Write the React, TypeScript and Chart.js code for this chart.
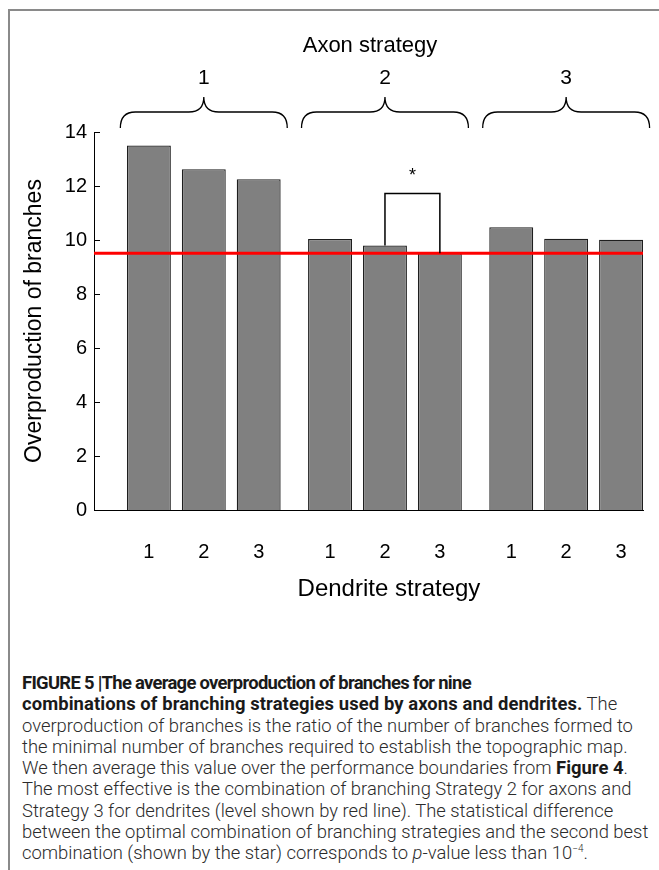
import React, { useEffect, useRef } from "react";
import { Chart, registerables } from "chart.js";

Chart.register(...registerables);

// Branching strategies compared in the figure
const AXON_STRATEGIES = ["1", "2", "3"];
const DENDRITE_STRATEGIES = ["1", "2", "3"];

// Average overproduction of branches, one array per axon strategy,
// indexed by dendrite strategy
const AXON_1 = [13.5, 12.62, 12.25];
const AXON_2 = [10.04, 9.8, 9.51];
const AXON_3 = [10.47, 10.05, 10.01];
const OVERPRODUCTION = [AXON_1, AXON_2, AXON_3];

// Optimal combination (red line) and runner-up (significance bracket)
const BEST = { axon: 1, dendrite: 2 };
const SECOND_BEST = { axon: 1, dendrite: 1 };
const BRACKET_LEVEL = 11.72;
const SIGNIFICANCE_MARK = "*";

const Y_TICKS = [0, 2, 4, 6, 8, 10, 12, 14];

const AXON_TITLE = "Axon strategy";
const DENDRITE_TITLE = "Dendrite strategy";
const VALUE_TITLE = "Overproduction of branches";

// Extra room between axon groups, in units of one bar slot
const GROUP_GAP = 0.3;
const slot = (a: number, d: number) =>
  a * (DENDRITE_STRATEGIES.length + GROUP_GAP) + d + 1;

const FONT = "'Liberation Sans', Arial, Helvetica, sans-serif";

const points = OVERPRODUCTION.flatMap((row, a) =>
  row.map((v, d) => ({ x: slot(a, d), y: v }))
);
const tickSlots = points.map((p) => p.x);
const tickLabels = OVERPRODUCTION.flatMap(() => DENDRITE_STRATEGIES);
const lastSlot = slot(AXON_STRATEGIES.length - 1, DENDRITE_STRATEGIES.length - 1);

const figureDecorations = {
  id: "figureDecorations",
  afterDatasetsDraw(chart: any) {
    const { ctx, chartArea, scales } = chart;
    const x = scales.x;
    const y = scales.y;
    ctx.save();

    // inward tick marks on the value axis
    ctx.strokeStyle = "#000";
    ctx.lineWidth = 1;
    y.ticks.forEach((t: any) => {
      const py = Math.round(y.getPixelForValue(t.value)) + 0.5;
      ctx.beginPath();
      ctx.moveTo(chartArea.left, py);
      ctx.lineTo(chartArea.left + 6, py);
      ctx.stroke();
    });

    // level of the optimal combination
    const best = OVERPRODUCTION[BEST.axon][BEST.dendrite];
    const ry = y.getPixelForValue(best);
    ctx.strokeStyle = "#ff0000";
    ctx.lineWidth = 3;
    ctx.beginPath();
    ctx.moveTo(chartArea.left, ry);
    ctx.lineTo(chartArea.right, ry);
    ctx.stroke();

    // significance bracket between best and second best
    const second = OVERPRODUCTION[SECOND_BEST.axon][SECOND_BEST.dendrite];
    const x1 = x.getPixelForValue(slot(SECOND_BEST.axon, SECOND_BEST.dendrite));
    const x2 = x.getPixelForValue(slot(BEST.axon, BEST.dendrite));
    const yTop = y.getPixelForValue(BRACKET_LEVEL);
    ctx.strokeStyle = "#000";
    ctx.lineWidth = 1.5;
    ctx.beginPath();
    ctx.moveTo(x1, y.getPixelForValue(second));
    ctx.lineTo(x1, yTop);
    ctx.lineTo(x2, yTop);
    ctx.lineTo(x2, ry);
    ctx.stroke();
    ctx.fillStyle = "#000";
    ctx.font = `18px ${FONT}`;
    ctx.textAlign = "center";
    ctx.textBaseline = "middle";
    ctx.fillText(SIGNIFICANCE_MARK, (x1 + x2) / 2, yTop - 18);

    // curly braces grouping the axon strategies
    const yb = chartArea.top - 4;
    const ym = chartArea.top - 20;
    const yt = chartArea.top - 35;
    const r = 15;
    ctx.lineWidth = 1.3;
    AXON_STRATEGIES.forEach((label, a) => {
      const xs = x.getPixelForValue(slot(a, 0) - 0.52);
      const xe = x.getPixelForValue(slot(a, DENDRITE_STRATEGIES.length - 1) + 0.52);
      const xc = x.getPixelForValue(slot(a, (DENDRITE_STRATEGIES.length - 1) / 2));
      ctx.beginPath();
      ctx.moveTo(xs, yb);
      ctx.quadraticCurveTo(xs, ym, xs + r, ym);
      ctx.lineTo(xc - r, ym);
      ctx.quadraticCurveTo(xc, ym, xc, yt);
      ctx.quadraticCurveTo(xc, ym, xc + r, ym);
      ctx.lineTo(xe - r, ym);
      ctx.quadraticCurveTo(xe, ym, xe, yb);
      ctx.stroke();
      ctx.font = `21px ${FONT}`;
      ctx.fillText(label, xc, chartArea.top - 54);
    });

    // axis titles for the two grouping levels
    const mid = x.getPixelForValue(slot(1, 1));
    ctx.font = `22px ${FONT}`;
    ctx.fillText(AXON_TITLE, mid - 15, chartArea.top - 86);
    ctx.font = `24px ${FONT}`;
    ctx.fillText(DENDRITE_TITLE, mid + 4, chartArea.bottom + 79);
    ctx.restore();
  },
};

export default function App() {
  const canvasRef = useRef<HTMLCanvasElement>(null);

  useEffect(() => {
    const chart = new Chart(canvasRef.current as HTMLCanvasElement, {
      type: "bar",
      data: {
        datasets: [
          {
            data: points,
            backgroundColor: "#808080",
            borderColor: "#1e1e1e",
            borderWidth: 1.3,
            barPercentage: 0.8,
            categoryPercentage: 1,
          },
        ],
      },
      options: {
        animation: false,
        responsive: true,
        maintainAspectRatio: false,
        layout: { padding: { left: 0, right: 16, top: 132, bottom: 0 } },
        plugins: { legend: { display: false }, tooltip: { enabled: false }, title: { display: false } },
        scales: {
          x: {
            type: "linear",
            min: 0,
            max: lastSlot + 0.4,
            offset: false,
            grid: { display: false },
            border: { display: true, color: "#000", width: 1 },
            afterFit: (s: any) => {
              s.height = 110;
            },
            afterBuildTicks: (s: any) => {
              s.ticks = tickSlots.map((v) => ({ value: v }));
            },
            ticks: {
              autoSkip: false,
              maxRotation: 0,
              padding: 22,
              color: "#000",
              font: { family: FONT, size: 20 },
              callback: (v: any) => {
                const i = tickSlots.findIndex((t) => Math.abs(t - Number(v)) < 1e-6);
                return i >= 0 ? tickLabels[i] : "";
              },
            },
            title: { display: false },
          },
          y: {
            min: 0,
            max: 14,
            grid: { display: false, drawTicks: false },
            border: { display: true, color: "#000", width: 1 },
            afterFit: (s: any) => {
              s.width = 94;
            },
            afterBuildTicks: (s: any) => {
              s.ticks = Y_TICKS.map((v) => ({ value: v }));
            },
            ticks: {
              padding: 7,
              color: "#000",
              font: { family: FONT, size: 20 },
            },
            title: {
              display: true,
              text: VALUE_TITLE,
              color: "#000",
              font: { family: FONT, size: 23 },
              padding: { top: 21, bottom: 0 },
            },
          },
        },
      },
      plugins: [figureDecorations],
    });
    return () => chart.destroy();
  }, []);

  const line: React.CSSProperties = { whiteSpace: "nowrap" };
  const bold: React.CSSProperties = { fontWeight: 700, color: "#1a1a1a" };

  return (
    <div
      style={{
        position: "absolute",
        left: 0,
        top: 0,
        width: 659,
        height: 870,
        background: "#fff",
        overflow: "hidden",
      }}
    >
      <div
        style={{
          position: "absolute",
          left: 8,
          top: 9,
          right: 0,
          bottom: 0,
          borderTop: "2px solid #8a8a8a",
          borderLeft: "2px solid #8a8a8a",
        }}
      />
      <div style={{ position: "absolute", left: 0, top: 0, width: 659, height: 620 }}>
        <canvas ref={canvasRef} />
      </div>
      <div
        style={{
          position: "absolute",
          left: 22,
          top: 672,
          width: 637,
          fontFamily: "Roboto, 'Liberation Sans', sans-serif",
          fontWeight: 300,
          fontSize: 18.4,
          lineHeight: "21.3px",
          color: "#2b2b2b",
        }}
      >
        <div style={line}>
          <span style={{ ...bold, letterSpacing: "-0.7px" }}>
            FIGURE 5 |The average overproduction of branches for nine
          </span>
        </div>
        <div style={line}>
          <span style={{ ...bold, letterSpacing: "0.1px" }}>
            combinations of branching strategies used by axons and dendrites.
          </span>{" "}
          The
        </div>
        <div style={line}>overproduction of branches is the ratio of the number of branches formed to</div>
        <div style={line}>the minimal number of branches required to establish the topographic map.</div>
        <div style={line}>
          We then average this value over the performance boundaries from <span style={bold}>Figure 4</span>.
        </div>
        <div style={line}>The most effective is the combination of branching Strategy 2 for axons and</div>
        <div style={line}>Strategy 3 for dendrites (level shown by red line). The statistical difference</div>
        <div style={line}>between the optimal combination of branching strategies and the second best</div>
        <div style={line}>
          combination (shown by the star) corresponds to <i>p</i>-value less than 10
          <sup style={{ fontSize: 10, verticalAlign: "7px", lineHeight: 0 }}>−4</sup>.
        </div>
      </div>
    </div>
  );
}
